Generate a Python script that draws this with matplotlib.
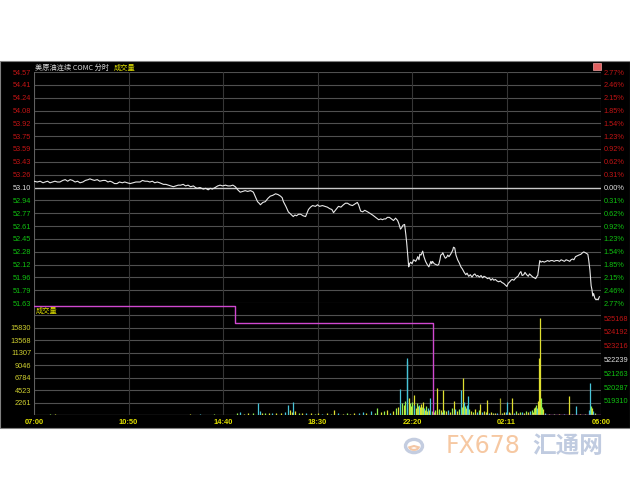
import matplotlib.pyplot as plt
from matplotlib.patches import Rectangle, Circle, Wedge
import numpy as np

plt.rcParams['font.family'] = ['Liberation Sans', 'Noto Sans CJK SC', 'DejaVu Sans']

# ---- data ----
price_ticks = [54.57, 54.41, 54.24, 54.08, 53.92, 53.75, 53.59, 53.43, 53.26, 53.10,
               52.94, 52.77, 52.61, 52.45, 52.28, 52.12, 51.96, 51.79, 51.63]
pct_labels = ['2.77%', '2.46%', '2.15%', '1.85%', '1.54%', '1.23%', '0.92%', '0.62%', '0.31%', '0.00%',
              '0.31%', '0.62%', '0.92%', '1.23%', '1.54%', '1.85%', '2.15%', '2.46%', '2.77%']
prev_close = 53.10
vol_ticks = [2261, 4523, 6784, 9046, 11307, 13568, 15830]
oi_ticks = [519310, 520287, 521263, 522239, 523216, 524192, 525168]
time_labels = ['07:00', '10:50', '14:40', '18:30', '22:20', '02:11', '06:00']
time_ticks = [0, 230, 460, 690, 920, 1150, 1380]  # minutes after 07:00

# (minutes after 07:00, price)
price_points = [
    (0, 53.18), (8, 53.17), (15, 53.18), (22, 53.16), (27, 53.17), (33, 53.18), (39, 53.16),
    (45, 53.17), (51, 53.18), (57, 53.17), (63, 53.17), (70, 53.19), (76, 53.20), (82, 53.18),
    (88, 53.20), (94, 53.19), (100, 53.17), (106, 53.18), (112, 53.16), (119, 53.17), (125, 53.19),
    (132, 53.20), (136, 53.21), (141, 53.20), (147, 53.19), (154, 53.20), (160, 53.18), (168, 53.19),
    (174, 53.19), (180, 53.17), (185, 53.18), (190, 53.17), (196, 53.15), (202, 53.15), (208, 53.17),
    (215, 53.16), (221, 53.17), (227, 53.16), (234, 53.15), (241, 53.16), (248, 53.17), (258, 53.17),
    (264, 53.19), (270, 53.18), (276, 53.18), (282, 53.17), (288, 53.18), (294, 53.16), (300, 53.17),
    (306, 53.16), (315, 53.14), (321, 53.14), (327, 53.13), (333, 53.12), (339, 53.11), (345, 53.12),
    (351, 53.13), (357, 53.13), (363, 53.14), (369, 53.12), (375, 53.13), (381, 53.11), (388, 53.12),
    (393, 53.10), (397, 53.09), (404, 53.10), (412, 53.08), (418, 53.09), (424, 53.07), (429, 53.09),
    (434, 53.08), (441, 53.10), (447, 53.12), (453, 53.13), (459, 53.12), (466, 53.13), (472, 53.12),
    (478, 53.12), (484, 53.13), (490, 53.11), (496, 53.07), (502, 53.04), (508, 53.05), (514, 53.06),
    (520, 53.05), (527, 53.06), (531, 53.05), (534, 53.04), (539, 52.98), (544, 52.92), (548, 52.90),
    (551, 52.88), (557, 52.91), (563, 52.92), (569, 52.96), (575, 52.99), (581, 53.00), (588, 53.02),
    (594, 53.01), (600, 52.99), (604, 52.97), (607, 52.92), (613, 52.86), (619, 52.79), (625, 52.76),
    (631, 52.73), (635, 52.75), (639, 52.74), (644, 52.76), (649, 52.76), (655, 52.74), (661, 52.73),
    (664, 52.77), (668, 52.82), (673, 52.85), (678, 52.87), (685, 52.86), (690, 52.88), (695, 52.86),
    (702, 52.87), (708, 52.86), (714, 52.85), (720, 52.83), (725, 52.82), (729, 52.78), (735, 52.82),
    (741, 52.86), (747, 52.85), (753, 52.88), (758, 52.90), (763, 52.90), (769, 52.88), (775, 52.87),
    (781, 52.89), (787, 52.91), (790, 52.88), (795, 52.80), (800, 52.79), (805, 52.81), (812, 52.79),
    (818, 52.77), (824, 52.75), (829, 52.73), (834, 52.71), (839, 52.69), (844, 52.70), (848, 52.69),
    (852, 52.70), (856, 52.70), (860, 52.72), (865, 52.72), (870, 52.70), (875, 52.68), (880, 52.71),
    (885, 52.68), (888, 52.64), (892, 52.57), (895, 52.59), (898, 52.62), (902, 52.63), (905, 52.50),
    (907, 52.40), (909, 52.28), (912, 52.09), (914, 52.13), (917, 52.15), (920, 52.13), (924, 52.18),
    (927, 52.17), (929, 52.16), (932, 52.19), (934, 52.22), (937, 52.18), (939, 52.25), (942, 52.24),
    (946, 52.29), (949, 52.22), (953, 52.16), (957, 52.12), (961, 52.09), (964, 52.13), (966, 52.16),
    (968, 52.13), (970, 52.16), (974, 52.13), (978, 52.12), (982, 52.11), (985, 52.12), (988, 52.18),
    (990, 52.24), (993, 52.25), (995, 52.27), (998, 52.23), (1001, 52.20), (1004, 52.21), (1007, 52.24),
    (1010, 52.22), (1014, 52.25), (1017, 52.28), (1019, 52.30), (1021, 52.34), (1024, 52.33), (1027, 52.24),
    (1031, 52.18), (1035, 52.14), (1039, 52.09), (1043, 52.06), (1047, 52.02), (1051, 51.99), (1054, 52.01),
    (1058, 51.97), (1062, 51.99), (1066, 51.96), (1070, 51.99), (1073, 52.00), (1077, 51.97), (1080, 51.98),
    (1084, 51.96), (1088, 51.98), (1092, 51.95), (1095, 51.97), (1099, 51.96), (1104, 51.94), (1108, 51.95),
    (1112, 51.92), (1116, 51.94), (1119, 51.92), (1123, 51.93), (1127, 51.91), (1131, 51.90), (1135, 51.91),
    (1139, 51.89), (1143, 51.88), (1147, 51.86), (1151, 51.84), (1154, 51.88), (1158, 51.90), (1161, 51.92),
    (1164, 51.93), (1168, 51.92), (1171, 51.94), (1175, 51.96), (1178, 51.97), (1182, 52.01), (1185, 52.03),
    (1188, 51.98), (1192, 51.99), (1195, 52.02), (1199, 51.99), (1203, 51.97), (1206, 52.00), (1210, 51.98),
    (1214, 51.96), (1218, 51.95), (1221, 51.94), (1224, 51.97), (1226, 51.98), (1229, 52.10), (1231, 52.17),
    (1234, 52.15), (1238, 52.16), (1242, 52.15), (1246, 52.16), (1250, 52.17), (1254, 52.16), (1258, 52.17),
    (1262, 52.17), (1266, 52.16), (1270, 52.17), (1275, 52.17), (1279, 52.16), (1283, 52.18), (1287, 52.17),
    (1291, 52.16), (1295, 52.18), (1300, 52.17), (1304, 52.16), (1307, 52.18), (1311, 52.19), (1314, 52.18),
    (1318, 52.22), (1322, 52.23), (1326, 52.24), (1331, 52.25), (1335, 52.27), (1338, 52.28), (1342, 52.27),
    (1345, 52.26), (1348, 52.25), (1350, 52.18), (1353, 52.05), (1356, 51.85), (1358, 51.80), (1360, 51.72),
    (1362, 51.75), (1365, 51.69), (1368, 51.67), (1370, 51.68), (1373, 51.67), (1376, 51.71),
]

# (minutes after 07:00, volume, colour key)
volume_bars = [
    (39, 200, 'g'), (51, 150, 'y'), (380, 150, 'y'), (405, 100, 'c'), (439, 150, 'g'),
    (495, 450, 'g'), (502, 560, 'c'), (510, 250, 'y'), (522, 300, 'y'), (532, 400, 'g'),
    (544, 2160, 'c'), (549, 700, 'c'), (556, 450, 'y'), (563, 300, 'g'), (571, 350, 'y'),
    (580, 400, 'c'), (590, 300, 'y'), (600, 350, 'y'), (610, 600, 'c'), (617, 1800, 'c'),
    (622, 900, 'y'), (627, 600, 'y'), (631, 2340, 'c'), (636, 700, 'y'), (644, 400, 'g'),
    (653, 350, 'y'), (663, 300, 'c'), (673, 400, 'y'), (683, 250, 'g'), (692, 300, 'y'),
    (702, 200, 'c'), (714, 400, 'y'), (724, 250, 'g'), (731, 900, 'y'), (741, 300, 'c'),
    (751, 250, 'y'), (761, 350, 'g'), (770, 250, 'y'), (780, 300, 'y'), (790, 400, 'c'),
    (800, 500, 'c'), (809, 350, 'y'), (819, 700, 'c'), (829, 400, 'g'), (836, 1260, 'g'),
    (844, 500, 'y'), (851, 700, 'g'), (858, 900, 'y'), (866, 400, 'c'), (873, 800, 'y'),
    (880, 1200, 'g'), (885, 1400, 'y'), (890, 4700, 'c'), (895, 2200, 'g'), (900, 1800, 'y'),
    (902, 2500, 'g'), (907, 10300, 'c'), (909, 9900, 'c'), (912, 3000, 'y'), (914, 2200, 'g'),
    (917, 1600, 'y'), (919, 2400, 'g'), (924, 3600, 'y'), (926, 1800, 'c'), (929, 1300, 'y'),
    (931, 2200, 'g'), (934, 1600, 'y'), (936, 1900, 'c'), (939, 1400, 'y'), (941, 2000, 'y'),
    (944, 1500, 'g'), (946, 2340, 'y'), (948, 1200, 'c'), (951, 900, 'y'), (953, 1600, 'g'),
    (956, 800, 'y'), (958, 1200, 'c'), (961, 900, 'y'), (965, 3060, 'c'), (968, 700, 'g'),
    (973, 500, 'y'), (975, 900, 'g'), (980, 800, 'y'), (982, 4860, 'y'), (985, 1100, 'g'),
    (990, 900, 'y'), (992, 600, 'c'), (995, 4500, 'y'), (997, 900, 'g'), (1002, 700, 'y'),
    (1007, 900, 'c'), (1012, 500, 'y'), (1017, 1200, 'g'), (1022, 2520, 'y'), (1024, 1000, 'c'),
    (1029, 700, 'y'), (1034, 1100, 'g'), (1039, 4500, 'c'), (1041, 1500, 'g'), (1043, 6660, 'y'),
    (1046, 2300, 'c'), (1048, 1600, 'g'), (1051, 1200, 'y'), (1053, 1900, 'c'), (1056, 3420, 'c'),
    (1058, 1000, 'g'), (1063, 800, 'y'), (1068, 600, 'g'), (1073, 1000, 'y'), (1078, 500, 'c'),
    (1082, 900, 'g'), (1085, 2000, 'y'), (1090, 600, 'c'), (1095, 700, 'y'), (1100, 500, 'g'),
    (1102, 2700, 'y'), (1107, 400, 'c'), (1112, 500, 'y'), (1117, 300, 'g'), (1121, 400, 'y'),
    (1126, 300, 'c'), (1134, 3060, 'o'), (1139, 400, 'g'), (1143, 500, 'y'), (1148, 600, 'c'),
    (1151, 2340, 'c'), (1156, 500, 'y'), (1158, 400, 'g'), (1163, 3060, 'y'), (1168, 400, 'c'),
    (1173, 700, 'g'), (1178, 300, 'y'), (1182, 500, 'g'), (1187, 600, 'c'), (1192, 400, 'y'),
    (1197, 700, 'g'), (1202, 500, 'y'), (1207, 800, 'c'), (1212, 900, 'g'), (1214, 600, 'y'),
    (1217, 1200, 'g'), (1219, 1400, 'y'), (1221, 1800, 'g'), (1224, 1300, 'c'), (1226, 2500, 'y'),
    (1229, 10440, 'y'), (1231, 17640, 'y'), (1234, 3000, 'g'), (1236, 1500, 'g'), (1239, 1000, 'y'),
    (1243, 400, 'c'), (1253, 200, 'y'), (1265, 150, 'g'), (1278, 200, 'y'), (1290, 150, 'c'),
    (1302, 3420, 'y'), (1309, 200, 'g'), (1319, 1620, 'c'), (1329, 150, 'y'), (1341, 200, 'g'),
    (1351, 900, 'c'), (1353, 5760, 'c'), (1356, 1600, 'g'), (1358, 1200, 'y'), (1360, 700, 'c'),
    (1365, 400, 'g'),
]

# open interest steps: (start minute, value)
oi_steps = [(0, 526030), (490, 524830), (970, 518340), (1380, 518340)]

vol_colors = {'y': '#e0e030', 'c': '#48c4d8', 'g': '#90f050', 'o': '#a0a028'}

W, H = 630, 490
fig = plt.figure(figsize=(6.3, 4.9), dpi=100)
fig.patch.set_facecolor('white')
bg = Rectangle((0, 1 - 428 / H), 1, (428 - 61) / H, transform=fig.transFigure,
               facecolor='black', edgecolor='#808080', lw=0.8, zorder=-10)
fig.add_artist(bg)


def box(l, t, r, b):
    return [l / W, 1 - b / H, (r - l) / W, (b - t) / H]


grid_c = '#505050'
vgrid_c = '#363636'

# ---- price panel ----
ax = fig.add_axes(box(34, 72, 601, 303))
ax.set_facecolor('black')
for p in price_ticks:
    if p == prev_close:
        ax.axhline(p, color='#c8c8c8', lw=1.0, zorder=2)
    else:
        ax.axhline(p, color=grid_c, lw=0.8, zorder=1)
for t in time_ticks[1:-1]:
    ax.axvline(t, color=vgrid_c, lw=0.8, zorder=1)
ax.axvline(time_ticks[0], color='#606060', lw=0.8)
ax.axvline(time_ticks[-1], color='#606060', lw=0.8)

pm = [p[0] for p in price_points]
pv = [p[1] for p in price_points]
ax.plot(pm, pv, color='#e8e8e8', lw=0.8, zorder=3)

ax.set_xlim(time_ticks[0], time_ticks[-1])
ax.set_ylim(price_ticks[-1], price_ticks[0])
ax.set_xticks([])
ax.set_yticks(price_ticks)
ax.set_yticklabels(['%.2f' % p for p in price_ticks])
ax.tick_params(axis='y', length=0, pad=2, labelsize=5.3)
for s in ax.spines.values():
    s.set_visible(False)


def side_colors(labels, values, ref):
    for lab, v in zip(labels, values):
        if v > ref:
            lab.set_color('#c01414')
        elif v < ref:
            lab.set_color('#10c010')
        else:
            lab.set_color('#e0e0e0')


side_colors(ax.get_yticklabels(), price_ticks, prev_close)

axr = ax.twinx()
axr.set_ylim(price_ticks[-1], price_ticks[0])
axr.set_yticks(price_ticks)
axr.set_yticklabels(pct_labels)
axr.tick_params(axis='y', length=0, pad=2, labelsize=5.3)
for s in axr.spines.values():
    s.set_visible(False)
side_colors(axr.get_yticklabels(), price_ticks, prev_close)

# ---- volume panel ----
axv = fig.add_axes(box(34, 303, 601, 415))
axv.set_facecolor('black')
step = vol_ticks[1] - vol_ticks[0]
vol_top = vol_ticks[-1] + 2 * step
for v in vol_ticks + [vol_ticks[-1] + step]:
    axv.axhline(v, color=grid_c, lw=0.8, zorder=1)
axv.axhline(0, color='#606060', lw=0.9, zorder=1)
for t in time_ticks[1:-1]:
    axv.axvline(t, color=vgrid_c, lw=0.8, zorder=1)
axv.axvline(time_ticks[0], color='#606060', lw=0.8)
axv.axvline(time_ticks[-1], color='#606060', lw=0.8)

bm = [b[0] for b in volume_bars]
bv = [b[1] for b in volume_bars]
bc = [vol_colors[b[2]] for b in volume_bars]
axv.vlines(bm, 0, bv, colors=bc, lw=0.9, zorder=3)

axv.set_xlim(time_ticks[0], time_ticks[-1])
axv.set_ylim(0, vol_top)
axv.set_yticks(vol_ticks)
axv.set_yticklabels([str(v) for v in vol_ticks])
axv.tick_params(axis='y', length=0, pad=2, labelsize=5.3, labelcolor='#d0d030')
axv.set_xticks(time_ticks)
axv.set_xticklabels(time_labels)
axv.tick_params(axis='x', length=0, pad=3, labelsize=5.4, labelcolor='#e0e000')
for lab in axv.get_xticklabels():
    lab.set_fontweight('bold')
for s in axv.spines.values():
    s.set_visible(False)

axo = axv.twinx()
axo.set_ylim(518319, 526243)
om = [s[0] for s in oi_steps]
ov = [s[1] for s in oi_steps]
axo.step(om, ov, where='post', color='#d048d0', lw=1.0, zorder=4)
axo.set_yticks(oi_ticks)
axo.set_yticklabels([str(v) for v in oi_ticks])
axo.tick_params(axis='y', length=0, pad=2, labelsize=5.3)
side_colors(axo.get_yticklabels(), oi_ticks, oi_ticks[3])
for s in axo.spines.values():
    s.set_visible(False)
axo.set_xlim(time_ticks[0], time_ticks[-1])

# ---- header texts ----
cjk = ['Noto Sans CJK SC', 'DejaVu Sans']
fig.text(35 / W, 1 - 67.5 / H, '美原油连续 COMC 分时', color='#d8d8d8', fontsize=5.2,
         family=cjk, va='center', ha='left')
fig.text(114 / W, 1 - 67.5 / H, '成交量', color='#e0e000', fontsize=5.2,
         family=cjk, va='center', ha='left')
fig.text(36 / W, 1 - 311 / H, '成交量', color='#e0e000', fontsize=5.2,
         family=cjk, va='center', ha='left')
fig.add_artist(Rectangle((593 / W, 1 - 70 / H), 8 / W, 7 / H, transform=fig.transFigure,
                         facecolor='#e06060', edgecolor='#f0a0a0', lw=0.5, zorder=5))

# ---- watermark ----
fig.add_artist(Circle((414 / W, 1 - 446 / H), 8.5 / W, transform=fig.transFigure,
                      facecolor='none', edgecolor='#c4cde0', lw=2.4, zorder=5))
fig.add_artist(Wedge((414 / W, 1 - 446 / H), 5 / W, 200, 340, transform=fig.transFigure,
                     facecolor='none', edgecolor='#f3c6a4', lw=1.5, zorder=5))
fig.text(446 / W, 1 - 446 / H, 'FX678', color='#f6c8a2', fontsize=17, family='DejaVu Sans',
         va='center', ha='left')
fig.text(532 / W, 1 - 446 / H, '汇通网', color='#c0cbe0', fontsize=17, family=cjk,
         fontweight='bold', va='center', ha='left')

fig.savefig('out.png', dpi=100, facecolor='white')
